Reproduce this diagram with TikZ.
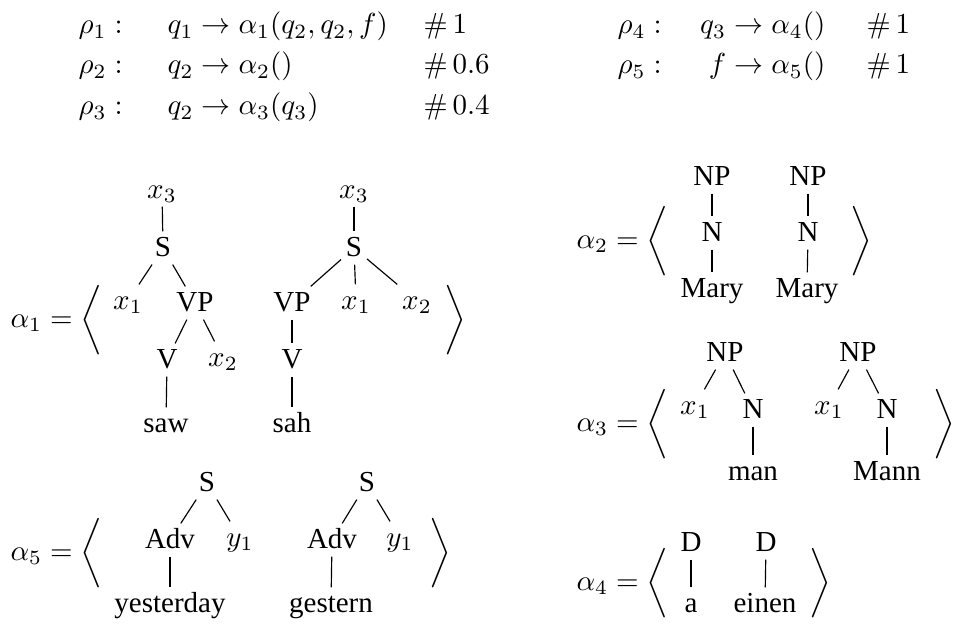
\documentclass[tikz,border=0pt]{standalone}
\usepackage[no-math]{fontspec}
\setmainfont{Liberation Serif}
\tikzset{
  m/.style={anchor=base west, inner sep=0pt},
  me/.style={anchor=base east, inner sep=0pt},
  lab/.style={inner sep=1.5pt, text height=1.5ex, text depth=.25ex},
  lhs/.style={anchor=west, inner sep=0pt},
  rb/.style={inner sep=0pt},
  edge/.style={line width=0.4pt}
}
\begin{document}
\begin{tikzpicture}[x=0.3448pt,y=-0.3448pt,font=\fontsize{10}{12}\selectfont]
\useasboundingbox (0,0) rectangle (954,624);
% ---------- rules ----------
\node[m] (r1) at (78,34) {$\rho_1:$};
\node[m] (e1) at (167,34) {$q_1 \rightarrow \alpha_1(q_2, q_2, f)$};
\node[m] (w1) at (423,34) {$\#\,1$};
\node[m] (r2) at (78,74) {$\rho_2:$};
\node[m] (e2) at (167,74) {$q_2 \rightarrow \alpha_2()$};
\node[m] (w2) at (423,74) {$\#\,0.6$};
\node[m] (r3) at (78,115) {$\rho_3:$};
\node[m] (e3) at (167,115) {$q_2 \rightarrow \alpha_3(q_3)$};
\node[m] (w3) at (423,115) {$\#\,0.4$};
\node[m] (r4) at (617,34) {$\rho_4:$};
\node[me] (e4) at (826,34) {$q_3 \rightarrow \alpha_4()$};
\node[m] (w4) at (866,34) {$\#\,1$};
\node[m] (r5) at (617,74) {$\rho_5:$};
\node[me] (e5) at (826,74) {$f \rightarrow \alpha_5()$};
\node[m] (w5) at (866,74) {$\#\,1$};
% ---------- alpha 1 ----------
\node[lhs] (a1) at (10,320) {$\alpha_1 = \bigg\langle$};
\node[rb] (a1r) at (455,320) {$\bigg\rangle$};
\node[lab] (t1x3) at (162,190) {$x_3$};
\node[lab] (t1S) at (163,248) {S};
\node[lab] (t1x1) at (128,301) {$x_1$};
\node[lab] (t1VP) at (195,303) {VP};
\node[lab] (t1V) at (167,360) {V};
\node[lab] (t1x2) at (223,358) {$x_2$};
\node[lab] (t1w) at (166,424) {saw};
\draw[edge] (t1x3) -- (t1S);
\draw[edge] (t1S) -- (t1x1);
\draw[edge] (t1S) -- (t1VP);
\draw[edge] (t1VP) -- (t1V);
\draw[edge] (t1VP) -- (t1x2);
\draw[edge] (t1V) -- (t1w);
\node[lab] (t2x3) at (354,190) {$x_3$};
\node[lab] (t2S) at (354,248) {S};
\node[lab] (t2VP) at (292,303) {VP};
\node[lab] (t2x1) at (356,301) {$x_1$};
\node[lab] (t2x2) at (417,301) {$x_2$};
\node[lab] (t2V) at (292,360) {V};
\node[lab] (t2w) at (292,424) {sah};
\draw[edge] (t2x3) -- (t2S);
\draw[edge] (t2S) -- (t2VP);
\draw[edge] (t2S) -- (t2x1);
\draw[edge] (t2S) -- (t2x2);
\draw[edge] (t2VP) -- (t2V);
\draw[edge] (t2V) -- (t2w);
% ---------- alpha 2 ----------
\node[lhs] (a2) at (576,241) {$\alpha_2 = \bigg\langle$};
\node[rb] (a2r) at (861,241) {$\bigg\rangle$};
\node[lab] (u1NP) at (712,177) {NP};
\node[lab] (u1N) at (712,233) {N};
\node[lab] (u1w) at (712,289) {Mary};
\node[lab] (u2NP) at (808,177) {NP};
\node[lab] (u2N) at (808,233) {N};
\node[lab] (u2w) at (807,289) {Mary};
\draw[edge] (u1NP) -- (u1N);
\draw[edge] (u1N) -- (u1w);
\draw[edge] (u2NP) -- (u2N);
\draw[edge] (u2N) -- (u2w);
% ---------- alpha 3 ----------
\node[lhs] (a3) at (576,424) {$\alpha_3 = \bigg\langle$};
\node[rb] (a3r) at (944,424) {$\bigg\rangle$};
\node[lab] (v1NP) at (725,353) {NP};
\node[lab] (v1x1) at (695,406) {$x_1$};
\node[lab] (v1N) at (753,410) {N};
\node[lab] (v1w) at (753,472) {man};
\node[lab] (v2NP) at (858,353) {NP};
\node[lab] (v2x1) at (829,406) {$x_1$};
\node[lab] (v2N) at (887,410) {N};
\node[lab] (v2w) at (887,472) {Mann};
\draw[edge] (v1NP) -- (v1x1);
\draw[edge] (v1NP) -- (v1N);
\draw[edge] (v1N) -- (v1w);
\draw[edge] (v2NP) -- (v2x1);
\draw[edge] (v2NP) -- (v2N);
\draw[edge] (v2N) -- (v2w);
% ---------- alpha 4 ----------
\node[lhs] (a4) at (576,583) {$\alpha_4 = \bigg\langle$};
\node[rb] (a4r) at (820,583) {$\bigg\rangle$};
\node[lab] (d1D) at (691,543) {D};
\node[lab] (d1w) at (691,604) {a};
\node[lab] (d2D) at (766,543) {D};
\node[lab] (d2w) at (765,604) {einen};
\draw[edge] (d1D) -- (d1w);
\draw[edge] (d2D) -- (d2w);
% ---------- alpha 5 ----------
\node[lhs] (a5) at (10,553) {$\alpha_5 = \bigg\langle$};
\node[rb] (a5r) at (440,553) {$\bigg\rangle$};
\node[lab] (s1S) at (207,483) {S};
\node[lab] (s1A) at (170,540) {Adv};
\node[lab] (s1y) at (240,538) {$y_1$};
\node[lab] (s1w) at (170,604) {yesterday};
\node[lab] (s2S) at (367,483) {S};
\node[lab] (s2A) at (332,540) {Adv};
\node[lab] (s2y) at (400,538) {$y_1$};
\node[lab] (s2w) at (331,604) {gestern};
\draw[edge] (s1S) -- (s1A);
\draw[edge] (s1S) -- (s1y);
\draw[edge] (s1A) -- (s1w);
\draw[edge] (s2S) -- (s2A);
\draw[edge] (s2S) -- (s2y);
\draw[edge] (s2A) -- (s2w);
\end{tikzpicture}
\end{document}
